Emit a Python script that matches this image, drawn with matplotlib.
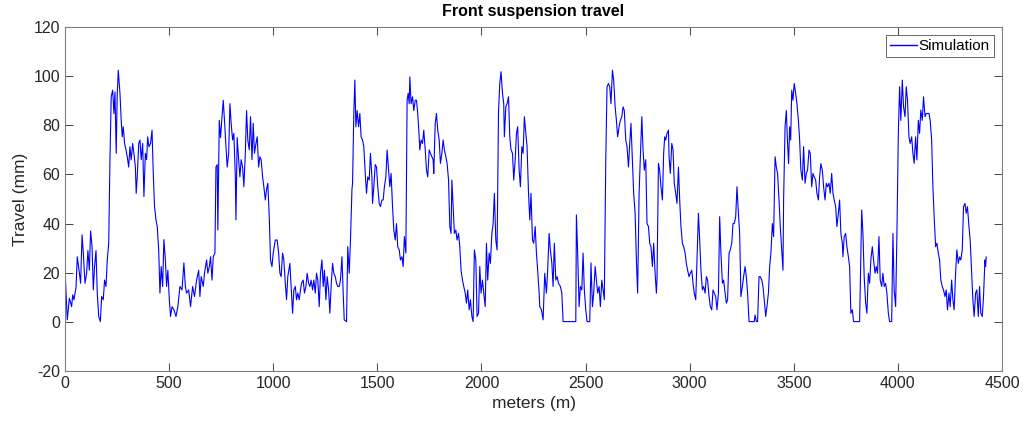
import matplotlib
matplotlib.use("Agg")
import matplotlib.pyplot as plt

plt.rcParams['font.family'] = ['Liberation Sans', 'DejaVu Sans']
plt.rcParams['axes.unicode_minus'] = False

# (meters, travel mm), one list per stretch of track
seg_a = [(0, 21.4), (11, 0.8), (21, 9.6), (32, 6.2), (37, 11), (43, 9), (53, 14), (59, 26.5),
         (69, 20), (75, 15.7), (82, 35.4), (88, 28), (96, 15.7), (104, 19.8), (110, 29), (117, 21),
         (123, 37), (130, 30.6), (136, 13), (142, 22.5), (149, 29), (155, 11.6), (162, 2.2), (170, 0.1),
         (176, 10.3), (184, 9), (190, 17), (197, 14.4), (203, 25), (210, 32), (216, 66), (222, 91.6),
         (229, 94.3), (235, 84.8), (240, 93.6), (246, 68.6), (251, 93), (256, 102.4), (264, 93), (270, 82),
         (275, 75.3), (280, 79.4), (286, 72.6), (293, 70), (299, 67.2), (306, 63), (312, 71.3), (318, 65.9),
         (325, 72.6), (331, 68.6), (338, 63), (342, 52.3), (347, 59), (354, 72.6), (360, 74), (366, 66),
         (373, 72.6), (379, 51), (386, 68.6), (392, 66), (397, 75.3), (403, 71.3), (411, 72.6), (418, 78),
         (424, 60.4), (430, 47), (437, 41.5), (443, 38.8), (450, 29.3), (456, 11.7), (462, 22.5), (469, 14.4),
         (475, 33.5), (482, 25.2), (488, 14.4), (494, 21), (501, 9), (507, 2.2), (514, 6.2), (523, 4.9),
         (533, 2.2), (542, 6.2), (552, 14.4), (562, 13)]
seg_b = [(571, 24), (578, 14.4), (584, 11.7), (594, 13), (603, 6.2), (613, 14.4), (622, 10.3), (632, 17),
         (642, 21), (648, 10.3), (654, 18.4), (664, 14.4), (670, 19.8), (680, 25.2), (686, 19.8), (693, 22.5),
         (699, 26.5), (706, 17), (712, 26.5), (720, 28), (725, 63), (731, 64), (734, 37.4), (741, 82),
         (747, 75), (754, 83.5), (760, 90.2), (766, 82), (773, 71.3), (779, 63), (786, 68.6), (792, 88.8),
         (798, 80.8), (805, 74), (811, 76.7), (818, 59), (821, 41.5), (827, 75), (834, 66), (840, 59),
         (846, 66), (853, 63), (859, 55), (866, 68.6), (872, 86), (878, 74), (885, 70), (891, 83.5),
         (898, 66), (904, 80.8), (910, 68.6), (917, 72.6), (923, 75.3), (930, 63), (936, 67.2), (942, 66),
         (949, 59), (955, 55), (962, 49.6), (968, 53.9), (974, 56.4), (981, 42.8), (987, 25.2), (994, 22.5),
         (1000, 28), (1010, 33.3), (1019, 33.3), (1026, 28), (1032, 19.8), (1038, 18.4), (1045, 28), (1051, 25.2),
         (1058, 15.7), (1064, 9), (1070, 18.4), (1080, 23.8), (1086, 14.4), (1093, 3.5), (1099, 13), (1106, 14.4),
         (1112, 9), (1118, 11.7), (1125, 9), (1131, 13)]
seg_c = [(1136, 15.7), (1144, 17), (1150, 11.7), (1157, 14.4), (1163, 19.8), (1170, 15.7), (1176, 14.4),
         (1182, 17), (1189, 13), (1195, 17), (1202, 11.7), (1208, 19.8), (1214, 17), (1221, 6.2), (1227, 19.8),
         (1234, 25.2), (1240, 14.4), (1246, 21), (1253, 9), (1259, 18.4), (1266, 13), (1272, 3.5), (1278, 14.4),
         (1285, 23.8), (1291, 19.8), (1298, 18.4), (1304, 15.7), (1310, 14.4), (1317, 14.4), (1323, 17),
         (1330, 26.5), (1336, 11.7), (1341, 0.8), (1352, 0.1), (1358, 30.6), (1365, 19.8), (1371, 33.3),
         (1378, 53.7), (1381, 56.4), (1387, 84.8), (1392, 98.4), (1397, 79.4), (1403, 86), (1410, 79.4),
         (1416, 84.8), (1422, 75.3), (1429, 74), (1435, 71.3), (1442, 60.4), (1448, 52.3), (1454, 59),
         (1461, 57.7), (1467, 68.6), (1474, 59), (1477, 48.2), (1483, 55), (1490, 64), (1496, 63), (1502, 55),
         (1509, 48.2), (1515, 46.9), (1522, 49.6), (1528, 49.6), (1534, 55), (1541, 59), (1547, 69.9),
         (1554, 61.8), (1560, 55), (1566, 60.4), (1573, 46.9), (1579, 37.4), (1586, 33.3), (1592, 40),
         (1598, 30.6), (1605, 29.3), (1611, 25.2), (1618, 26.5), (1624, 22.5), (1630, 34.7), (1637, 28),
         (1643, 90.2), (1648, 93), (1653, 88.8), (1656, 99.7), (1662, 88.8), (1669, 91.6), (1675, 86),
         (1682, 90.2), (1688, 90.2), (1694, 84.8), (1701, 75.3)]
seg_d = [(1704, 70), (1710, 74), (1717, 72.6), (1723, 78), (1730, 70), (1736, 61.8), (1742, 59), (1749, 70),
         (1755, 68.6), (1762, 67.2), (1768, 66), (1771, 60.4), (1778, 80.8), (1784, 84.8), (1790, 78), (1797, 74),
         (1803, 64.5), (1810, 68.6), (1816, 74), (1822, 70), (1829, 67.2), (1835, 64.5), (1842, 57.7),
         (1848, 38.8), (1854, 36), (1858, 57.7), (1864, 46.9), (1870, 36), (1877, 37.4), (1883, 33.3),
         (1890, 36), (1896, 30.6), (1902, 21), (1909, 17), (1915, 14.4), (1922, 11.7), (1928, 7.6), (1934, 13),
         (1941, 4.9), (1947, 9), (1954, 2.2), (1960, 0.1), (1966, 29.3), (1973, 25.2), (1979, 2.2), (1986, 3.5),
         (1992, 22.5), (1998, 11.7), (2005, 17), (2011, 11.7), (2018, 6.2), (2024, 32), (2030, 17), (2037, 28),
         (2043, 23.8), (2050, 36), (2056, 40), (2062, 52.3), (2069, 33.3), (2075, 29.3), (2082, 86), (2088, 97),
         (2094, 101.8), (2101, 93), (2107, 88.8), (2110, 75.3), (2117, 87.5), (2123, 88.8), (2130, 91.6),
         (2136, 75.3), (2142, 70), (2149, 68.6), (2155, 57.7), (2162, 66), (2168, 76.7), (2174, 79.4),
         (2181, 61.7), (2187, 55), (2194, 71.3), (2200, 68.6), (2206, 83.5), (2213, 76.7), (2219, 71.3),
         (2226, 52.3), (2232, 41.5), (2238, 52.3), (2245, 33.3), (2251, 32), (2258, 38.8), (2264, 28),
         (2270, 21), (2277, 11.7)]
seg_e = [(2280, 6.2), (2288, 4.9), (2296, 0.8), (2304, 19.8), (2312, 11.7), (2318, 21), (2325, 36),
         (2331, 29.3), (2338, 24), (2344, 14.4), (2350, 32), (2357, 17), (2363, 18.4), (2370, 15.7),
         (2379, 14.4), (2386, 11.7), (2392, 0.1), (2453, 0.1), (2456, 43.5), (2462, 28), (2469, 6.2),
         (2475, 14.4), (2482, 13), (2488, 28), (2494, 13), (2501, 4.9), (2507, 0.1), (2520, 0.1), (2526, 24),
         (2533, 6.2), (2539, 11.7), (2546, 22.5), (2552, 17), (2558, 11.7), (2565, 14.4), (2571, 6.2),
         (2578, 17), (2584, 13), (2590, 9), (2597, 66), (2603, 95.7), (2610, 97), (2616, 95.7), (2622, 88.8),
         (2629, 102.4), (2635, 98.4), (2642, 87.5), (2648, 82), (2654, 75.3), (2661, 79.4), (2667, 82),
         (2674, 83.5), (2680, 87.5), (2686, 86), (2693, 74), (2699, 71.3), (2706, 63), (2712, 72.6),
         (2718, 80.8), (2725, 66), (2731, 52.3), (2738, 44.2), (2744, 25.2), (2750, 11.7), (2757, 52.3),
         (2763, 67.2), (2770, 83.5), (2776, 70), (2782, 61.7), (2789, 66), (2795, 40), (2802, 38.8),
         (2808, 32), (2814, 30.6), (2821, 22.5), (2827, 32), (2834, 19.8), (2840, 11.7), (2843, 17),
         (2850, 64.5), (2856, 61.7), (2862, 55), (2869, 49.6), (2875, 68.6), (2880, 75.3)]
seg_f = [(2885, 74), (2891, 76.7), (2898, 78), (2901, 67.2), (2907, 60.4), (2914, 72.6), (2920, 70),
         (2926, 56.4), (2933, 52.3), (2939, 48.2), (2946, 63), (2952, 49.6), (2958, 38.8), (2965, 32),
         (2971, 30.6), (2978, 28), (2984, 23.8), (2990, 21), (2997, 18.4), (3003, 19.8), (3010, 21),
         (3016, 15.7), (3022, 11.7), (3029, 9), (3035, 25.2), (3042, 44.2), (3048, 33.3), (3054, 21),
         (3061, 13), (3067, 14.4), (3074, 11.7), (3080, 18.4), (3086, 17), (3093, 10.3), (3099, 6.2),
         (3106, 4.9), (3112, 13), (3118, 11.7), (3125, 10.3), (3131, 4.9), (3138, 11.7), (3144, 42.8),
         (3150, 28), (3157, 15.7), (3163, 17), (3170, 11.7), (3176, 7.6), (3182, 9), (3189, 28), (3195, 29.3),
         (3202, 32), (3208, 40), (3214, 40), (3221, 42.8), (3227, 55), (3234, 44.2), (3240, 36), (3246, 10.3),
         (3253, 14.4), (3259, 18.4), (3266, 22.5), (3272, 18.4), (3278, 11.7), (3285, 0.1), (3310, 0.1),
         (3314, 2.8), (3320, 0.1), (3326, 0.1), (3333, 18.4), (3339, 18.4), (3346, 17), (3352, 14.4),
         (3358, 9), (3365, 2.2), (3371, 6.2), (3378, 11.7), (3384, 22.5), (3390, 28), (3397, 40), (3403, 34.7),
         (3410, 67.2), (3416, 63), (3422, 60.4), (3429, 49.6), (3435, 38.8), (3442, 29.3), (3448, 21)]
seg_g = [(3451, 49.6), (3458, 79.4), (3464, 86), (3470, 72.6), (3475, 64.4), (3480, 79.4), (3485, 74),
         (3490, 94.3), (3496, 90.2), (3502, 97), (3509, 93), (3515, 88.8), (3522, 82), (3528, 74),
         (3534, 61.7), (3541, 57.7), (3547, 71.3), (3554, 56.4), (3560, 60.4), (3566, 61.7), (3573, 69.9),
         (3579, 68.6), (3586, 55), (3592, 60.4), (3598, 59), (3605, 57.7), (3611, 52.3), (3618, 49.6),
         (3624, 59), (3630, 64.4), (3637, 61.7), (3643, 55), (3650, 49.6), (3656, 56.4), (3662, 55),
         (3669, 56.4), (3675, 52.3), (3682, 60.4), (3688, 52.3), (3694, 49.6), (3701, 46.9), (3707, 38.8),
         (3714, 44.2), (3720, 49.6), (3726, 36), (3733, 32), (3736, 26.5), (3742, 34.7), (3749, 36),
         (3755, 30.6), (3762, 26.5), (3768, 22.5), (3774, 3.5), (3781, 4.9), (3787, 0.1), (3816, 0.1),
         (3826, 45.5), (3832, 36), (3838, 18.4), (3845, 7.6), (3851, 3.5), (3858, 19.8), (3864, 15.7),
         (3870, 25.2), (3877, 30.6), (3883, 25.2), (3890, 19.8), (3896, 22.5), (3902, 19.8), (3909, 34.7),
         (3915, 17), (3922, 14.4), (3928, 19.8), (3934, 14.4), (3941, 15.7), (3947, 11.7), (3954, 3.5),
         (3960, 0.1), (3970, 0.1), (3976, 36), (3982, 13), (3989, 6.2), (3995, 34.7), (4002, 76.7)]
seg_h = [(4008, 95.7), (4014, 82), (4021, 98.4), (4027, 87.5), (4034, 83.5), (4040, 95.7), (4046, 90.2),
         (4053, 75.3), (4059, 72.6), (4066, 75.3), (4072, 68.6), (4078, 64.5), (4085, 75.3), (4091, 65.9),
         (4098, 82), (4104, 76.7), (4110, 86.2), (4117, 82), (4123, 91.6), (4130, 83.5), (4136, 84.8),
         (4142, 84.8), (4149, 84.8), (4155, 82), (4162, 74), (4168, 55), (4174, 42.8), (4181, 30.6),
         (4187, 32), (4194, 27.9), (4200, 25.2), (4206, 17), (4213, 14.4), (4219, 13), (4226, 10.3),
         (4232, 13), (4238, 4.9), (4245, 11.7), (4251, 6.2), (4258, 17), (4264, 8.9), (4270, 4.9),
         (4277, 19.8), (4283, 29.3), (4290, 23.8), (4296, 26.4), (4302, 25.2), (4309, 29.3), (4315, 46.9),
         (4322, 48.2), (4328, 44.2), (4334, 46.9), (4341, 38.8), (4347, 33.3), (4354, 19.8), (4360, 8.9),
         (4366, 2.2), (4373, 11.7), (4379, 13), (4386, 2.2), (4392, 14.4), (4398, 3.5), (4405, 2.2),
         (4411, 10.3), (4418, 25.2), (4421, 22.5), (4424, 26.4)]

data = seg_a + seg_b + seg_c + seg_d + seg_e + seg_f + seg_g + seg_h
meters = [p[0] for p in data]
travel = [p[1] for p in data]

xticks = list(range(0, 4501, 500))
yticks = list(range(-20, 121, 20))

fig = plt.figure(figsize=(10.25, 4.28), dpi=100)
ax = fig.add_axes([0.0634, 0.1332, 0.9142, 0.8037])

ax.plot(meters, travel, color='#0000ff', linewidth=0.8, label='Simulation')

ax.set_xlim(0, 4500)
ax.set_ylim(-20, 120)
ax.set_xticks(xticks)
ax.set_yticks(yticks)
ax.tick_params(direction='in', length=6, width=0.6, colors='#262626', labelsize=11.5,
               top=True, right=True)
for s in ax.spines.values():
    s.set_color('#7f7f7f')
    s.set_linewidth(0.8)

ax.set_xlabel('meters (m)', fontsize=12.5, color='#262626')
ax.set_ylabel('Travel (mm)', fontsize=12.5, color='#262626')
ax.set_title('Front suspension travel', fontsize=11.5, fontweight='bold', color='black', pad=8)

leg = ax.legend(loc='upper right', fontsize=11, fancybox=False, handlelength=1.8,
                borderpad=0.25, handletextpad=0.1, borderaxespad=0.55)
leg.get_frame().set_edgecolor('#262626')
leg.get_frame().set_linewidth(0.6)
leg.get_lines()[0].set_linewidth(1.0)

fig.savefig('out.png', dpi=100)
